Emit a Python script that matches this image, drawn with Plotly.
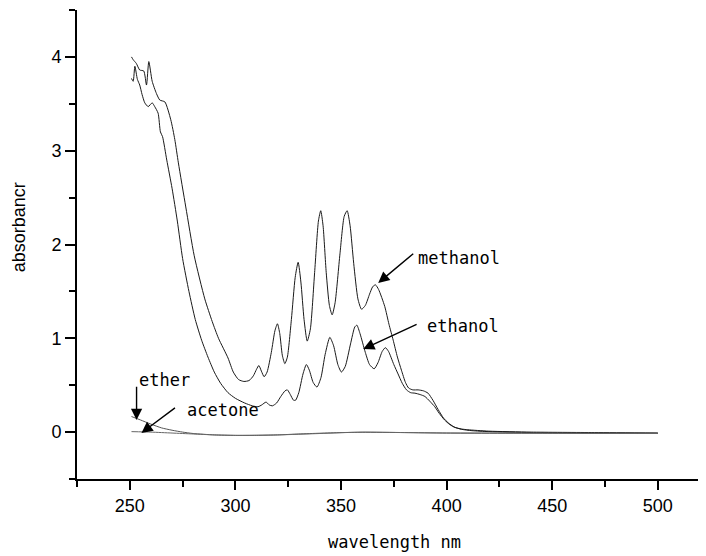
import plotly.graph_objects as go

# ---------------- data ----------------
meth_wl = [250.8, 251.6, 253.1, 254.7, 256.6, 257.9, 259.0, 260.6, 262.6, 264.2, 266.6, 269.4,
           271.3, 273.0, 276.5, 280.5, 285.5, 289.0, 292.0, 296.5, 299.0, 301.5, 304.0, 306.5,
           308.5, 310.0, 311.1, 312.3, 313.6, 315.0, 317.0, 318.7, 319.9, 321.0, 322.2, 323.4,
           324.6, 326.5, 328.3, 329.7, 331.0, 332.5, 334.0, 335.5, 337.5, 339.3, 340.4, 341.5,
           343.0, 344.5, 345.8, 347.2, 349.5, 351.5, 352.9, 354.3, 356.0, 358.0, 359.7, 361.5,
           363.5, 365.0, 366.3, 367.8, 370.7, 372.7, 374.7, 376.7, 378.6, 380.5, 382.0, 384.0,
           386.5, 389.0, 391.2, 393.5, 396.0, 398.5, 400.7, 403.5, 407.0, 412.0, 420.0, 440.0,
           470.0, 500.0]
meth_a = [4.00, 3.97, 3.93, 3.86, 3.85, 3.70, 3.95, 3.74, 3.61, 3.54, 3.52, 3.33,
          3.12, 2.87, 2.40, 1.88, 1.42, 1.18, 1.00, 0.79, 0.64, 0.56, 0.54, 0.55,
          0.60, 0.67, 0.71, 0.65, 0.59, 0.64, 0.85, 1.08, 1.155, 1.05, 0.82, 0.73,
          0.80, 1.20, 1.65, 1.81, 1.60, 1.20, 0.97, 1.10, 1.70, 2.25, 2.36, 2.20,
          1.70, 1.35, 1.25, 1.38, 1.90, 2.30, 2.36, 2.20, 1.80, 1.42, 1.31, 1.35,
          1.47, 1.55, 1.57, 1.52, 1.34, 1.15, 0.98, 0.80, 0.66, 0.53, 0.47, 0.45,
          0.45, 0.44, 0.415, 0.34, 0.24, 0.15, 0.10, 0.055, 0.03, 0.015, 0.005, -0.005,
          -0.01, -0.012]

eth_wl = [250.8, 251.6, 252.4, 253.6, 254.7, 255.8, 257.1, 258.7, 260.6, 261.8, 263.4, 264.5,
          265.5, 267.5, 270.0, 272.5, 275.0, 278.0, 281.0, 284.0, 287.0, 290.0, 293.0, 296.5,
          300.0, 304.4, 308.0, 310.7, 312.5, 314.5, 316.0, 317.5, 319.5, 321.5, 323.5, 324.6,
          326.0, 327.5, 328.5, 330.0, 332.0, 333.6, 335.0, 336.8, 338.6, 340.5, 342.5, 344.7,
          346.5, 348.5, 350.2, 352.0, 354.5, 356.5, 357.5, 359.0, 361.5, 363.5, 365.7, 367.5,
          369.5, 371.0, 372.5, 375.0, 377.0, 379.0, 381.0, 383.0, 385.0, 387.5, 389.7, 392.0,
          394.4, 396.5, 399.0, 401.5, 403.9, 407.0, 410.0, 420.0, 440.0, 470.0, 500.0]
eth_a = [3.77, 3.74, 3.90, 3.76, 3.70, 3.60, 3.51, 3.47, 3.51, 3.47, 3.40, 3.20,
         3.15, 2.90, 2.60, 2.25, 1.85, 1.50, 1.20, 0.98, 0.80, 0.64, 0.52, 0.42,
         0.36, 0.31, 0.28, 0.27, 0.29, 0.32, 0.29, 0.28, 0.31, 0.38, 0.44, 0.45,
         0.40, 0.34, 0.34, 0.42, 0.62, 0.72, 0.66, 0.53, 0.48, 0.58, 0.83, 1.01,
         0.92, 0.72, 0.64, 0.70, 0.94, 1.12, 1.14, 1.05, 0.85, 0.72, 0.675, 0.74,
         0.86, 0.90, 0.86, 0.72, 0.62, 0.52, 0.45, 0.42, 0.415, 0.40, 0.38, 0.33,
         0.27, 0.20, 0.13, 0.08, 0.05, 0.033, 0.025, 0.01, 0.0, -0.005, -0.01]

ether_wl = [250.8, 255, 260, 265, 270, 275, 280, 290, 300, 310, 320, 330, 340, 350, 360,
            380, 400, 450, 500]
ether_a = [0.166, 0.13, 0.085, 0.045, 0.02, 0.0, -0.015, -0.03, -0.035, -0.035, -0.03,
           -0.02, -0.012, -0.005, -0.002, -0.005, -0.01, -0.012, -0.015]

acet_wl = [250.8, 260, 270, 280, 290, 300, 320, 340, 360, 380, 400, 450, 500]
acet_a = [0.005, 0.0, -0.01, -0.02, -0.03, -0.035, -0.03, -0.015, 0.0, -0.005, -0.01,
          -0.012, -0.013]

x_ticks = [250, 300, 350, 400, 450, 500]
y_ticks = [0, 1, 2, 3, 4]

# label: (text x, text y, arrow tail x, tail y, arrow tip x, tip y)
labels = {
    "methanol": (385.6, 1.86, 384.9, 1.915, 367.6, 1.59),
    "ethanol": (389.7, 1.13, 386.5, 1.155, 360.5, 0.885),
    "ether": (253.2, 0.56, 253.2, 0.50, 253.2, 0.13),
    "acetone": (276.0, 0.24, 272.1, 0.27, 255.5, -0.01),
}

# ---------------- figure ----------------
fig = go.Figure()
for wl, a, col in [(meth_wl, meth_a, "#1a1a1a"), (eth_wl, eth_a, "#1a1a1a"),
                   (ether_wl, ether_a, "#555555"), (acet_wl, acet_a, "#666666")]:
    fig.add_trace(go.Scatter(x=wl, y=a, mode="lines", showlegend=False,
                             line=dict(color=col, width=1, shape="spline", smoothing=0.6)))

mono = "DejaVu Sans Mono"
for name, (tx, ty, ax0, ay0, hx, hy) in labels.items():
    fig.add_annotation(x=hx, y=hy, ax=ax0, ay=ay0, axref="x", ayref="y", xref="x", yref="y",
                       text="", showarrow=True, arrowhead=2, arrowsize=1.6, arrowwidth=1.4,
                       arrowcolor="black")
    fig.add_annotation(x=tx, y=ty, xref="x", yref="y", text=name, showarrow=False,
                       xanchor="left", yanchor="middle",
                       font=dict(family=mono, size=17, color="black"))

fig.add_annotation(x=0.504, y=-0.134, xref="paper", yref="paper", text="wavelength nm",
                   showarrow=False, xanchor="center", yanchor="middle",
                   font=dict(family=mono, size=17, color="black"))
fig.add_annotation(x=-0.0927, y=0.536, xref="paper", yref="paper", text="absorbancr",
                   showarrow=False, textangle=-90, xanchor="center", yanchor="middle",
                   font=dict(family="Liberation Sans", size=18, color="black"))

fig.update_layout(
    width=698, height=548,
    margin=dict(l=69, r=0, t=2, b=77),
    paper_bgcolor="white", plot_bgcolor="white",
    font=dict(family="Liberation Sans", size=18, color="black"),
    xaxis=dict(range=[225, 522.8], tickvals=x_ticks, ticks="outside", ticklen=9, tickwidth=2,
               tickcolor="black", showline=True, linecolor="black", linewidth=2,
               showgrid=False, zeroline=False,
               minor=dict(dtick=25, tick0=225, ticks="outside", ticklen=6, tickwidth=2,
                          tickcolor="black", showgrid=False)),
    yaxis=dict(range=[-0.5, 4.5], tickvals=y_ticks, ticks="outside", ticklen=10, tickwidth=2,
               tickcolor="black", showline=True, linecolor="black", linewidth=2,
               showgrid=False, zeroline=False,
               minor=dict(dtick=0.5, tick0=0, ticks="outside", ticklen=6, tickwidth=2,
                          tickcolor="black", showgrid=False)),
)

fig.write_html("out.html", config={"displayModeBar": False})
